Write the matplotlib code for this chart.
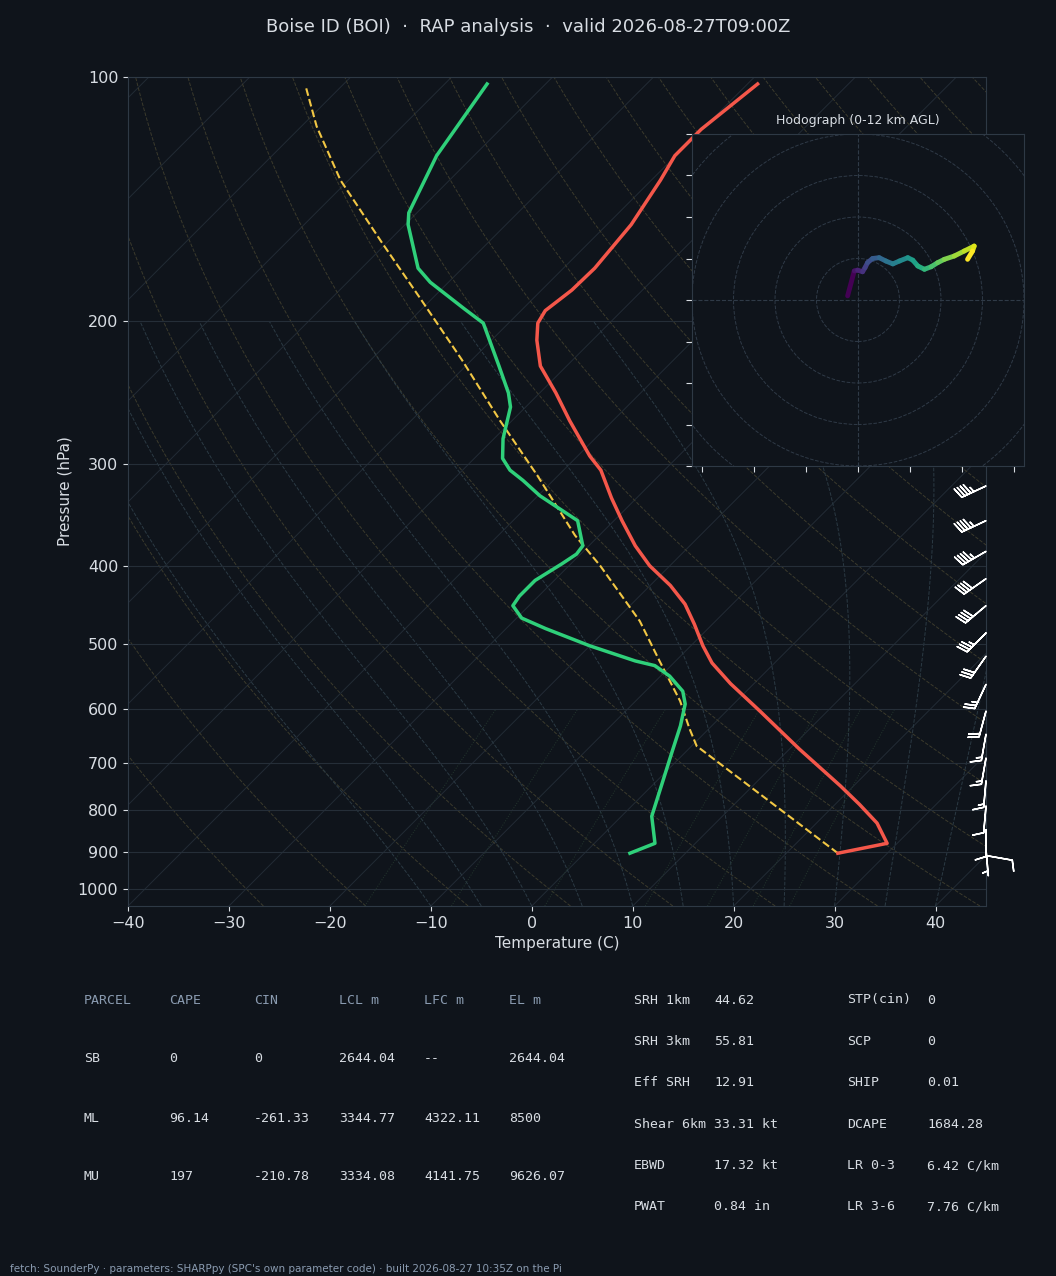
import numpy as np
import matplotlib
matplotlib.use("Agg")
import matplotlib.pyplot as plt
from matplotlib.collections import LineCollection

BG = "#0f141b"
FG = "#d8dde3"
SPINE = "#2e3945"
GRID = "#252e38"
MUTED = "#8a9bb0"

# --- sounding ---
T_P = [904, 879, 830, 787, 747, 673, 604, 559, 527, 502, 472, 446, 423, 400, 378, 352,
       330, 305, 293, 265, 245, 227, 211, 201, 194, 183, 172, 152, 134, 125, 116, 102]
T_C = [25.1, 29.0, 26.0, 22.4, 18.7, 11.0, 3.3, -2.3, -6.2, -8.8, -11.8, -14.7, -18.0, -22.0,
       -25.4, -29.2, -32.5, -36.3, -38.8, -44.3, -48.4, -52.6, -55.5, -57.1, -57.6, -57.0,
       -56.9, -57.6, -59.1, -60.1, -60.1, -59.0]
TD_P = [904, 879, 814, 758, 677, 630, 592, 571, 547, 531, 524, 502, 478, 464, 448, 436, 417,
        398, 387, 378, 352, 328, 314, 305, 295, 279, 255, 245, 227, 201, 193, 179, 172, 152,
        147, 125, 102]
TD_C = [4.5, 6.0, 3.0, 1.3, -1.4, -3.1, -4.8, -6.3, -9.1, -11.6, -14.0, -20.0, -26.1, -29.5,
        -31.6, -31.9, -31.9, -30.9, -30.4, -30.6, -33.6, -39.8, -43.0, -45.3, -47.2, -49.1,
        -51.5, -53.1, -56.7, -62.5, -65.8, -71.8, -74.4, -79.7, -80.8, -83.7, -85.8]
PARCEL_P = [904, 667, 634, 587, 524, 468, 400, 367, 310, 265, 223, 188, 160, 134, 115, 103]
PARCEL_C = [25.1, 0.5, -2.0, -5.6, -11.6, -17.5, -26.9, -32.4, -42.0, -51.2, -61.0, -71.0,
            -80.5, -90.8, -98.5, -103.4]

WIND_P = [319, 352, 384, 415, 448, 484, 517, 560, 604, 645, 690, 736, 791, 846, 894, 910]
WIND_KT = [45, 45, 45, 40, 40, 35, 30, 25, 20, 15, 15, 15, 10, 10, 5, 10]
WIND_DIR = [245, 245, 240, 235, 230, 225, 215, 205, 195, 190, 190, 185, 185, 180, 175, 100]

HODO_U = [-2.5, -0.9, -0.1, 1.1, 1.7, 2.3, 3.5, 5.1, 6.7, 8.4, 10.0, 12.0, 13.2, 14.4, 16.0,
          17.6, 19.2, 20.8, 23.2, 25.6, 28.0, 27.6, 26.4]
HODO_V = [1.0, 7.0, 7.2, 6.8, 7.8, 9.0, 10.0, 10.2, 9.4, 8.7, 9.4, 10.2, 9.6, 8.2, 7.4,
          8.0, 9.0, 9.8, 10.6, 11.8, 13.0, 11.8, 9.8]

PARCEL_HDR = ["PARCEL", "CAPE", "CIN", "LCL m", "LFC m", "EL m"]
PARCEL_ROWS = [["SB", "0", "0", "2644.04", "--", "2644.04"],
               ["ML", "96.14", "-261.33", "3344.77", "4322.11", "8500"],
               ["MU", "197", "-210.78", "3334.08", "4141.75", "9626.07"]]
IDX_LEFT = [("SRH 1km", "44.62"), ("SRH 3km", "55.81"), ("Eff SRH", "12.91"),
            ("Shear 6km", "33.31 kt"), ("EBWD", "17.32 kt"), ("PWAT", "0.84 in")]
IDX_RIGHT = [("STP(cin)", "0"), ("SCP", "0"), ("SHIP", "0.01"), ("DCAPE", "1684.28"),
             ("LR 0-3", "6.42 C/km"), ("LR 3-6", "7.76 C/km")]

P_BOT, P_TOP = 1050, 100
SKEW = 34.9


def skx(t, p):
    return np.asarray(t) + SKEW * np.log(P_BOT / np.asarray(p, dtype=float))


fig = plt.figure(figsize=(10.56, 12.76), dpi=100, facecolor=BG)
rect = [128 / 1056, 1 - 906 / 1276, 858 / 1056, 829 / 1276]
ax = fig.add_axes(rect, facecolor=BG)
ax.set_yscale("log")
ax.set_ylim(P_BOT, P_TOP)
ax.set_xlim(-40, 45)

pp = np.geomspace(P_BOT, P_TOP, 200)
# isotherms
for t0 in range(-160, 60, 10):
    ax.plot(skx(np.full_like(pp, t0), pp), pp, color="#222b35", lw=0.7, zorder=1)
# dry adiabats
for th in range(-30, 220, 10):
    tt = (th + 273.15) * (pp / 1000) ** 0.2857 - 273.15
    ax.plot(skx(tt, pp), pp, color="#3b3a2c", lw=0.7, ls="--", zorder=1)


# moist adiabats
def esat(t):
    return 6.112 * np.exp(17.67 * t / (t + 243.5))


def moist_lapse(t0, ps):
    out = [t0]
    t = t0
    for i in range(1, len(ps)):
        p = ps[i - 1]
        tk = t + 273.15
        rs = 0.622 * esat(t) / (p - esat(t))
        dtdp = (287 * tk + 2.5e6 * rs) / (1004 + 2.5e6 ** 2 * rs * 0.622 / (287 * tk ** 2)) / p
        t = t + dtdp * (ps[i] - p)
        out.append(t)
    return np.array(out)


pm = np.geomspace(P_BOT, 200, 150)
for t0 in range(-10, 45, 5):
    ax.plot(skx(moist_lapse(t0, pm), pm), pm, color="#2b3a44", lw=0.7, ls="--", zorder=1)
# mixing ratio
pw = np.geomspace(P_BOT, 600, 50)
for w in [1, 2, 4, 8, 12, 16, 20]:
    e = w * pw / (622 + w)
    td = 243.5 * np.log(e / 6.112) / (17.67 - np.log(e / 6.112))
    ax.plot(skx(td, pw), pw, color="#23362d", lw=0.7, ls=":", zorder=1)

ax.plot(skx(PARCEL_C, PARCEL_P), PARCEL_P, color="#f2c744", lw=1.5, ls="--", zorder=3)
ax.plot(skx(T_C, T_P), T_P, color="#f4574a", lw=2.5, zorder=4)
ax.plot(skx(TD_C, TD_P), TD_P, color="#2fd07a", lw=2.5, zorder=4)

ticks = [100, 200, 300, 400, 500, 600, 700, 800, 900, 1000]
ax.set_yticks(ticks)
ax.set_yticklabels([str(t) for t in ticks])
ax.yaxis.set_minor_locator(matplotlib.ticker.NullLocator())
ax.set_xticks(range(-40, 50, 10))
for t in ticks:
    ax.axhline(t, color=GRID, lw=0.8, zorder=1)
ax.tick_params(colors=FG, labelsize=11.5)
for s in ax.spines.values():
    s.set_color(SPINE)
ax.set_xlabel("Temperature (C)", color=FG, fontsize=11)
ax.set_ylabel("Pressure (hPa)", color=FG, fontsize=11)

# wind barbs on an overlay whose y grows upward (so barbs keep met convention)
bx = fig.add_axes(rect, facecolor="none")
bx.set_xlim(-40, 45)
bx.set_ylim(0, np.log(P_BOT / P_TOP))
bx.axis("off")
wd = np.radians(WIND_DIR)
u = -np.array(WIND_KT) * np.sin(wd)
v = -np.array(WIND_KT) * np.cos(wd)
bx.barbs(np.full(len(WIND_P), 45.0), np.log(P_BOT / np.array(WIND_P, dtype=float)), u, v,
         color="white", length=6.2, lw=1.1, clip_on=False, zorder=5)

fig.text(0.5, 1 - 27 / 1276, "Boise ID (BOI)  \u00b7  RAP analysis  \u00b7  valid 2026-08-27T09:00Z",
         ha="center", va="center", color=FG, fontsize=13)

# hodograph
hx = fig.add_axes([692 / 1056, 1 - 466 / 1276, 332 / 1056, 332 / 1276], facecolor=BG)
hx.set_xlim(-40, 40)
hx.set_ylim(-40, 40)
for r in range(10, 70, 10):
    hx.add_patch(plt.Circle((0, 0), r, fill=False, ls="--", lw=0.7, color="#2f3a47"))
hx.axhline(0, color="#2f3a47", ls="--", lw=0.8)
hx.axvline(0, color="#2f3a47", ls="--", lw=0.8)
pts = np.column_stack([HODO_U, HODO_V]).reshape(-1, 1, 2)
segs = np.concatenate([pts[:-1], pts[1:]], axis=1)
lc = LineCollection(segs, cmap="viridis", linewidths=3.5, capstyle="round")
lc.set_array(np.arange(len(segs)))
hx.add_collection(lc)
hx.set_xticks(np.arange(-37.5, 40, 12.5))
hx.set_yticks(np.arange(-40, 41, 10))
hx.set_xticklabels([])
hx.set_yticklabels([])
hx.tick_params(colors=FG, length=4)
for s in hx.spines.values():
    s.set_color(SPINE)
hx.set_title("Hodograph (0-12 km AGL)", color=FG, fontsize=9, pad=7)

# tables
mono = dict(family="DejaVu Sans Mono", fontsize=9.5, va="center")
cols = [84, 169, 254, 339, 424, 509]
for c, h in zip(cols, PARCEL_HDR):
    fig.text(c / 1056, 1 - 1000 / 1276, h, color=MUTED, **mono)
for r, row in enumerate(PARCEL_ROWS):
    y = [1059, 1118, 1176][r]
    for c, val in zip(cols, row):
        fig.text(c / 1056, 1 - y / 1276, val, color=FG, **mono)
for i, ((k1, v1), (k2, v2)) in enumerate(zip(IDX_LEFT, IDX_RIGHT)):
    y = 1 - (1000 + 41.4 * i) / 1276
    fig.text(634 / 1056, y, k1, color=FG, **mono)
    fig.text(714 / 1056, y, v1, color=FG, **mono)
    fig.text(847 / 1056, y, k2, color=FG, **mono)
    fig.text(927 / 1056, y, v2, color=FG, **mono)

fig.text(10 / 1056, 1 - 1269 / 1276,
         "fetch: SounderPy \u00b7 parameters: SHARPpy (SPC's own parameter code) \u00b7 built 2026-08-27 10:35Z on the Pi",
         color=MUTED, fontsize=7.5, va="center")

fig.savefig("out.png", dpi=100, facecolor=BG)
